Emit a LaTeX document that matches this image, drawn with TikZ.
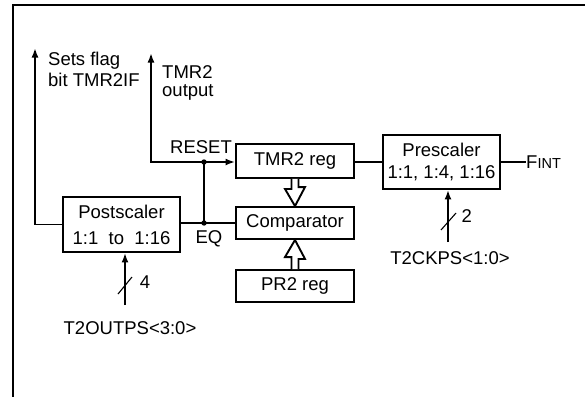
\documentclass[tikz,border=0pt]{standalone}
\usepackage{fontspec}
\setmainfont{Liberation Sans}
\usetikzlibrary{arrows.meta,calc}
\tikzset{
  regbox/.style={draw, line width=1.9pt, minimum width=118pt, inner sep=0pt, font=\fontsize{18.5}{21}\selectfont},
  sig/.style={line width=1.9pt},
  sigarrow/.style={line width=1.9pt, -{Latex[length=9.5pt,width=7pt]}},
  buswidth/.style={line width=1.1pt},
  lbl/.style={inner sep=0pt, font=\fontsize{18.5}{21}\selectfont},
}

\begin{document}
\begin{tikzpicture}[x=1pt, y=-1pt]
      \useasboundingbox (0,0) rectangle (585,397);

      % Frame (only top and left edges show)
      \draw[sig] (585,5) -| (13,397);

      % Register boxes in the middle column
      \node[regbox, minimum height=34pt] (tmr) at (295,161) {TMR2 reg};
      \node[regbox, minimum height=32pt] (comp) at (295,223) {Comparator};
      \node[regbox, minimum height=32pt] (prr) at (295,286) {PR2 reg};

      % Postscaler and prescaler boxes
      \node[regbox, minimum width=117pt, minimum height=55pt, align=center] (post) at (121.5,224.5) {Postscaler\\[5pt]1:1\ \ to\ \ 1:16};
      \node[regbox, minimum width=117pt, minimum height=54pt, align=center] (pre) at (441.5,162) {Prescaler\\[1pt]1:1, 1:4, 1:16};

      % Junctions and free ends
      \coordinate (rst) at (204,162);
      \coordinate (eq) at (204,223);
      \coordinate (flag) at (35,48);
      \coordinate (tout) at (151,53);
      \coordinate (psin) at (125,305);
      \coordinate (prin) at (448,242);
      \coordinate (fint) at (526,162);

      % Signal lines
      \draw[sigarrow] (rst) -- (rst -| tmr.west);
      \draw[sigarrow] (rst) -| (tout);
      \draw[sig] (post.east |- eq) -- (comp.west |- eq);
      \draw[sig] (eq) -- (rst);
      \draw[sigarrow] (post.west) -| (flag);
      \draw[sig] (tmr.east |- pre.west) -- (pre.west);
      \draw[sig] (pre.east) -- (fint);
      \draw[sigarrow] (psin) -- (psin |- post.south);
      \draw[sigarrow] (prin) -- (prin |- pre.south);

      % Junction dots
      \fill (rst) circle (2.7pt);
      \fill (eq) circle (2.7pt);

      % Bus width slashes
      \draw[buswidth] ($(psin)+(-7,-11)$) -- ++(14,-17);
      \draw[buswidth] ($(prin)+(-7,-12)$) -- ++(15,-17);

      % Hollow bus arrows into the comparator
      \draw[sig, fill=white] ([xshift=-3.5pt]tmr.south) -- ++(0,10) -- ++(-6.5,0) -- (comp.north) -- ++(10,-19) -- ++(-6.5,0) -- ([xshift=3.5pt]tmr.south);
      \draw[sig, fill=white] ([xshift=-3.5pt]prr.north) -- ++(0,-12) -- ++(-6.5,0) -- (comp.south) -- ++(10,19) -- ++(-6.5,0) -- ([xshift=3.5pt]prr.north);

      % Labels
      \node[lbl, anchor=north west, align=left] (flagtxt) at (48,52) {Sets flag\\bit TMR2IF};
      \node[lbl, anchor=north west, align=left] (touttxt) at (162,65) {TMR2\\[-3pt]output};
      \node[lbl] (resettxt) at (201,147) {RESET};
      \node[lbl] (eqtxt) at (209,239) {EQ};
      \node[lbl] (four) at (145,282.5) {4};
      \node[lbl] (two) at (466.7,216) {2};
      \node[lbl] (outps) at (130,328.5) {T2OUTPS<3:0>};
      \node[lbl] (ckps) at (450,258.5) {T2CKPS<1:0>};
      \node[lbl, anchor=west] (fintxt) at (fint) {F{\fontsize{14.5}{14}\selectfont INT}};
\end{tikzpicture}
\end{document}
